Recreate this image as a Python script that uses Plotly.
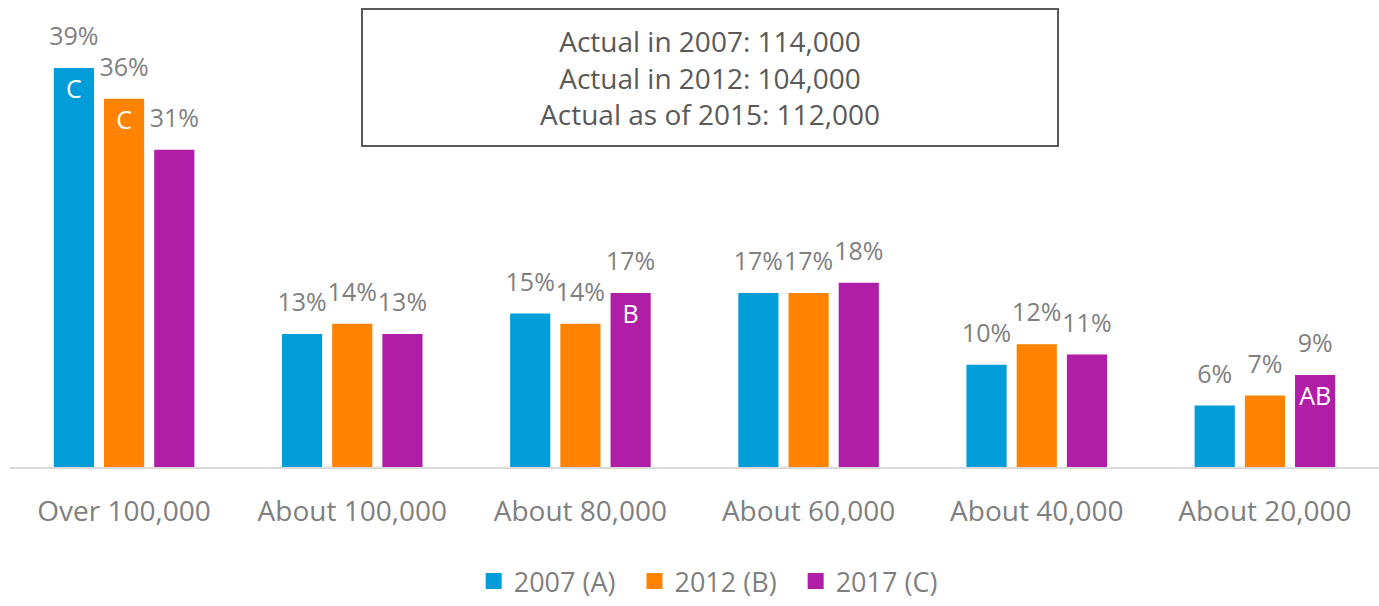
import plotly.graph_objects as go

categories = ["Over 100,000", "About 100,000", "About 80,000", "About 60,000", "About 40,000", "About 20,000"]
series_names = ["2007 (A)", "2012 (B)", "2017 (C)"]
v2007 = [39, 13, 15, 17, 10, 6]
v2012 = [36, 14, 14, 17, 12, 7]
v2017 = [31, 13, 17, 18, 11, 9]
sig2007 = ["C", "", "", "", "", ""]
sig2012 = ["C", "", "", "", "", ""]
sig2017 = ["", "", "B", "", "", "AB"]
colors = ["#009dd9", "#ff8300", "#b01ea8"]
box_lines = ["Actual in 2007: 114,000", "Actual in 2012: 104,000", "Actual as of 2015: 112,000"]

FONT = "Open Sans"
fig = go.Figure()
all_vals = [v2007, v2012, v2017]
all_sig = [sig2007, sig2012, sig2017]
for name, vals, sig, col in zip(series_names, all_vals, all_sig, colors):
    fig.add_trace(go.Bar(
        x=categories, y=vals, name=name, offsetgroup=name, showlegend=False,
        marker=dict(color=col, line=dict(width=0)),
        text=sig, textposition="inside", insidetextanchor="end",
        textfont=dict(family=FONT, size=25, color="white"),
        constraintext="none", hoverinfo="skip",
    ))
# percentage labels above the bars
for name, vals in zip(series_names, all_vals):
    fig.add_trace(go.Scatter(
        x=categories, y=vals, name=name, offsetgroup=name, showlegend=False,
        mode="markers+text", marker=dict(size=25, color="rgba(0,0,0,0)"),
        text=[f"{v}%" for v in vals], textposition="top center",
        textfont=dict(family=FONT, size=25, color="#7f7f7f"),
        cliponaxis=False, hoverinfo="skip",
    ))
# legend entries (square swatches)
for i, (name, col) in enumerate(zip(series_names, colors)):
    label = name + ("&nbsp;&nbsp;" if i < len(series_names) - 1 else "")
    fig.add_trace(go.Scatter(
        x=[None], y=[None], mode="markers", name=label, offsetgroup=name,
        marker=dict(symbol="square", size=16, color=col), hoverinfo="skip",
    ))

fig.update_layout(
    width=1379, height=606,
    margin=dict(l=10, r=0, t=10, b=139, autoexpand=False),
    barmode="group", bargap=0.34, bargroupgap=0.2,
    scattermode="group", scattergap=0.34,
    plot_bgcolor="white", paper_bgcolor="white",
    font=dict(family=FONT, color="#7f7f7f"),
    xaxis=dict(showgrid=False, showline=True, linecolor="#d9d9d9", linewidth=1.5,
               ticks="", ticklabelstandoff=19,
               tickfont=dict(family=FONT, size=28, color="#7f7f7f")),
    yaxis=dict(range=[0, 44.67], visible=False),
    legend=dict(orientation="h", x=0.51, xanchor="center",
                yref="container", y=0.0, yanchor="bottom",
                font=dict(family=FONT, size=27, color="#7f7f7f"),
                traceorder="normal"),
    showlegend=True,
)
fig.add_annotation(
    xref="paper", yref="paper", x=0.5113, y=1.004, xanchor="center", yanchor="top",
    text="<br>".join(box_lines), showarrow=False, align="center",
    font=dict(family=FONT, size=28, color="#595959"),
    bordercolor="#595959", borderwidth=2, borderpad=4,
    width=686, height=127, bgcolor="white",
)
fig.write_html("out.html", config={"displayModeBar": False},
               post_script="document.body.style.margin='0';document.body.style.overflow='hidden';")
